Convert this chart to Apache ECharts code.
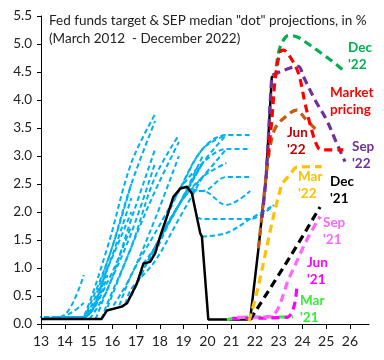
<!DOCTYPE html>
<html><head><meta charset="utf-8">
<script src="https://cdn.jsdelivr.net/npm/echarts@6/dist/echarts.min.js"></script>
<style>html,body{margin:0;padding:0;background:#fff}#c{width:384px;height:360px}</style>
</head><body><div id="c"></div>
<script>
// ---- tick labels ----
const xTicks = [13,14,15,16,17,18,19,20,21,22,23,24,25,26];
const yTicks = [0,0.5,1,1.5,2,2.5,3,3.5,4,4.5,5,5.5];

// ---- actual fed funds rate (black) ----
const actual = [[13.0,0.09],[15.55,0.09],[15.77,0.24],[16.4,0.31],[16.62,0.37],[17.04,0.73],[17.31,1.08],[17.59,1.11],[17.8,1.26],[18.01,1.56],[18.3,1.92],[18.57,2.27],[18.86,2.42],[19.14,2.45],[19.35,2.33],[19.7,1.62],[19.77,1.56],[20.04,0.08],[21.8,0.08],[22.15,1.35],[22.47,2.63],[22.71,4.41],[22.78,4.42]];

// ---- SEP median dot projections 2012-2019 (blue) ----
const sep2012a = [[12.8,0.125],[13.8,0.125],[14.8,0.875]];
const sep2012b = [[12.8,0.125],[13.8,0.125],[14.8,0.375]];
const sepMar13 = [[13.05,0.09],[13.8,0.125],[14.8,0.125],[15.8,0.875]];
const sepJun13 = [[13.3,0.09],[13.8,0.125],[14.8,0.125],[15.8,1.0]];
const sepSep13 = [[13.55,0.09],[13.8,0.125],[14.8,0.125],[15.8,1.0],[16.8,2.0]];
const sepDec13 = [[13.8,0.09],[14.8,0.125],[15.8,0.75],[16.8,1.75]];
const sepMar14 = [[14.05,0.09],[14.8,0.125],[15.8,1.0],[16.8,2.25]];
const sepJun14 = [[14.3,0.09],[14.8,0.125],[15.8,1.125],[16.8,2.5]];
const sepSep14 = [[14.55,0.09],[14.8,0.125],[15.8,1.375],[16.8,2.875],[17.8,3.75]];
const sepDec14 = [[14.8,0.09],[15.8,1.125],[16.8,2.5],[17.8,3.625]];
const sepMar15 = [[15.05,0.09],[15.8,0.625],[16.8,1.875],[17.8,3.125]];
const sepJun15 = [[15.3,0.09],[15.8,0.625],[16.8,1.625],[17.8,2.875]];
const sepSep15 = [[15.55,0.09],[15.8,0.375],[16.8,1.375],[17.8,2.625],[18.8,3.375]];
const sepDec15 = [[15.8,0.3],[16.8,1.375],[17.8,2.375],[18.8,3.25]];
const sepMar16 = [[16.05,0.33],[16.8,0.875],[17.8,1.875],[18.8,3.0]];
const sepJun16 = [[16.3,0.33],[16.8,0.875],[17.8,1.625],[18.8,2.375]];
const sepSep16 = [[16.55,0.36],[16.8,0.625],[17.8,1.125],[18.8,1.875],[19.8,2.625]];
const sepDec16 = [[16.8,0.5],[17.8,1.375],[18.8,2.125],[19.8,2.875]];
const sepMar17 = [[17.05,0.75],[17.8,1.375],[18.8,2.125],[19.8,3.0]];
const sepJun17 = [[17.3,1.08],[17.8,1.375],[18.8,2.125],[19.8,2.875]];
const sepSep17 = [[17.55,1.1],[17.8,1.375],[18.8,2.125],[19.8,2.625],[20.8,2.875]];
const sepDec17 = [[17.8,1.26],[18.8,2.125],[19.8,2.625],[20.8,3.125]];
const sepMar18 = [[18.05,1.6],[18.8,2.125],[19.8,2.875],[20.8,3.375]];
const sepJun18 = [[18.3,1.92],[18.8,2.375],[19.8,3.125],[20.8,3.375]];
const sepSep18 = [[18.55,2.25],[18.8,2.375],[19.8,3.125],[20.8,3.375],[21.8,3.375]];
const sepDec18 = [[18.8,2.4],[19.8,2.875],[20.8,3.125],[21.8,3.125]];
const sepMar19 = [[19.05,2.44],[19.8,2.375],[20.8,2.625],[21.8,2.625]];
const sepJun19 = [[19.3,2.37],[19.8,2.375],[20.8,2.125],[21.8,2.375]];
const sepSep19 = [[19.55,1.9],[19.8,1.875],[20.8,1.875],[21.8,1.875],[22.8,2.125]];
const sepDec19 = [[19.77,1.56],[20.8,1.625],[21.8,1.875],[22.8,2.125]];
const blueLines = [sep2012a,sep2012b,sepMar13,sepJun13,sepSep13,sepDec13,sepMar14,sepJun14,sepSep14,sepDec14,sepMar15,sepJun15,sepSep15,sepDec15,sepMar16,sepJun16,sepSep16,sepDec16,sepMar17,sepJun17,sepSep17,sepDec17,sepMar18,sepJun18,sepSep18,sepDec18,sepMar19,sepJun19,sepSep19,sepDec19];

// ---- 2021-2022 projections ----
const mar21 = [[20.82,0.08],[21.8,0.125],[22.8,0.125],[23.6,0.125]];
const jun21 = [[21.05,0.1],[23.35,0.12],[23.76,0.64]];
const sep21 = [[21.25,0.12],[22.6,0.13],[23.48,0.86],[24.18,1.5],[24.74,1.92]];
const dec21 = [[21.8,0.08],[23.48,1.2],[24.74,2.09]];
const mar22 = [[21.75,0.05],[22.1,0.6],[23.1,2.45],[23.5,2.68],[23.76,2.8],[24.81,2.81]];
const jun22 = [[22.15,1.35],[22.47,2.63],[22.64,3.17],[22.85,3.49],[23.2,3.67],[23.76,3.82],[24.11,3.67],[24.6,3.46]];
const sep22 = [[22.3,1.9],[22.47,2.63],[22.71,4.41],[22.78,4.45],[23.48,4.57],[23.83,4.6],[24.04,4.42],[24.53,4.0],[25.02,3.64],[25.44,3.23],[25.79,2.9]];
const market = [[22.55,3.0],[22.71,3.64],[22.85,4.36],[23.06,4.86],[23.2,4.89],[23.48,4.77],[23.83,4.48],[24.11,3.94],[24.39,3.46],[24.67,3.14],[24.88,3.11],[25.72,3.11]];
const dec22 = [[22.9,4.6],[23.02,4.89],[23.2,5.07],[23.41,5.15],[23.76,5.13],[24.11,5.04],[24.81,4.83],[25.44,4.63],[25.79,4.5]];

// ---- annotation labels ----
const labels = [
  {t:"Dec\n'22", c:'#00B050', x:348, y:39},
  {t:"Market\npricing", c:'#FF0000', x:330, y:84},
  {t:"Jun\n'22", c:'#C00000', x:287, y:124},
  {t:"Sep\n'22", c:'#7030A0', x:352, y:138},
  {t:"Mar\n'22", c:'#FFC000', x:298, y:168},
  {t:"Dec\n'21", c:'#000000', x:330, y:173},
  {t:"Sep\n'21", c:'#FF66FF', x:323, y:214},
  {t:"Jun\n'21", c:'#FF00FF', x:307, y:254},
  {t:"Mar\n'21", c:'#33EE33', x:300, y:292}
];

const FONT = 'Lato';
const series = [];
blueLines.forEach(d => series.push({
  type:'line', data:d, smooth:0.35, showSymbol:false, z:2,
  lineStyle:{color:'#00B0F0', width:2, type:[5,3]}
}));
series.push({type:'line', data:actual, showSymbol:false, z:3, lineStyle:{color:'#000', width:2.5}});
function proj(d, color, z){
  return {type:'line', data:d, smooth:0.35, showSymbol:false, z:z,
    lineStyle:{color:color, width:3.2, type:[8,5]}};
}
series.push(proj(mar21,'#33EE33',4));
series.push(proj(jun21,'#FF00FF',4));
series.push(proj(sep21,'#FF66FF',4));
series.push(proj(dec21,'#000000',4));
series.push(proj(mar22,'#FFC000',5));
series.push(proj(jun22,'#C55A11',5));
series.push(proj(sep22,'#7030A0',6));
series.push(proj(market,'#FF0000',7));
series.push(proj(dec22,'#00B050',6));

const chart = echarts.init(document.getElementById('c'), null, {renderer:'canvas'});
chart.setOption({
  animation:false,
  backgroundColor:'#fff',
  title:{text:'Fed funds target & SEP median "dot" projections, in %\n(March 2012  - December 2022)',
    left:44, top:7, textStyle:{fontFamily:FONT, fontSize:13.5, fontWeight:'normal', color:'#222', lineHeight:18}},
  grid:{left:41, right:15, top:16, bottom:36},
  xAxis:{type:'value', min:13, max:26.8, interval:1,
    axisLine:{onZero:false, lineStyle:{color:'#000', width:1}},
    axisTick:{show:true, length:5, lineStyle:{color:'#000'}, customValues:xTicks},
    axisLabel:{fontFamily:FONT, fontSize:14, color:'#222', margin:10, customValues:xTicks},
    splitLine:{show:false}},
  yAxis:{type:'value', min:0, max:5.5, interval:0.5,
    axisLine:{show:true, lineStyle:{color:'#000', width:1}},
    axisTick:{show:true, length:4, lineStyle:{color:'#000'}, customValues:yTicks},
    axisLabel:{fontFamily:FONT, fontSize:13.5, color:'#222', margin:9, customValues:yTicks, formatter:v=>v.toFixed(1)},
    splitLine:{show:false}},
  graphic: labels.map(l => ({type:'text', left:l.x, top:l.y, z:100,
    style:{text:l.t, fill:l.c, font:'bold 13.5px '+FONT, lineHeight:17}})),
  series:series
});
</script></body></html>
